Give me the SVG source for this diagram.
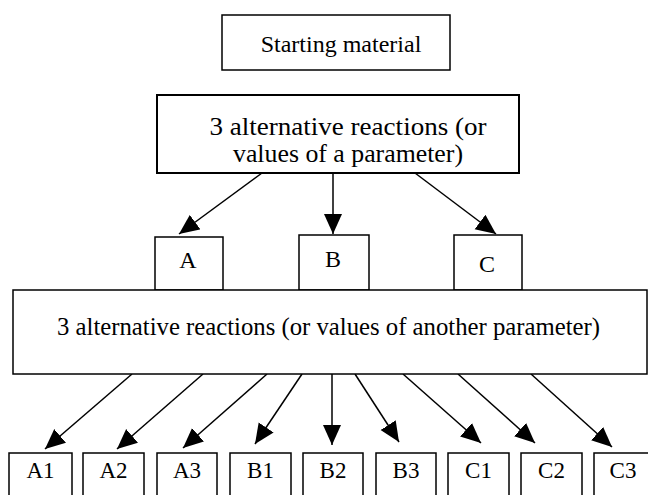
<svg xmlns="http://www.w3.org/2000/svg" width="648" height="495" viewBox="0 0 648 495">
<style>
.box{fill:#fff;stroke:#000;stroke-width:1.5}
.thick{stroke-width:2}
text{font-family:"Liberation Serif","DejaVu Serif",serif;fill:#000;text-anchor:middle}
.c{stroke:#000;stroke-width:1.5;fill:none;marker-end:url(#ah)}
</style>
<defs>
<marker id="ah" markerUnits="userSpaceOnUse" markerWidth="21" markerHeight="19" refX="20" refY="9" orient="auto">
<path d="M0,0 L20,9 L0,18 z" fill="#000"/>
</marker>
</defs>
<rect width="648" height="495" fill="#fff"/>
<g id="connectors">
<line class="c" x1="262" y1="173" x2="179" y2="234"/>
<line class="c" x1="333" y1="173" x2="333" y2="234"/>
<line class="c" x1="415" y1="173" x2="496" y2="234"/>
<line class="c" x1="132" y1="374" x2="45" y2="449"/>
<line class="c" x1="203" y1="374" x2="117" y2="449"/>
<line class="c" x1="267" y1="374" x2="183" y2="448"/>
<line class="c" x1="302" y1="374" x2="255" y2="444"/>
<line class="c" x1="332" y1="374" x2="332" y2="445"/>
<line class="c" x1="355" y1="374" x2="399" y2="442"/>
<line class="c" x1="403" y1="374" x2="481" y2="443"/>
<line class="c" x1="458" y1="374" x2="535" y2="443"/>
<line class="c" x1="531" y1="374" x2="612" y2="447"/>
</g>
<g id="start">
<rect class="box" x="222" y="15" width="228" height="55"/>
<text x="341" y="52" font-size="24" font-family="Liberation Serif, serif">Starting material</text>
</g>
<g id="reactions1">
<rect class="box thick" x="157" y="95" width="362" height="78"/>
<text x="348" y="135" font-size="25" font-family="Liberation Serif, serif" textLength="277" lengthAdjust="spacingAndGlyphs">3 alternative reactions  (or</text>
<text x="348" y="162" font-size="25" font-family="Liberation Serif, serif" textLength="230" lengthAdjust="spacingAndGlyphs">values of a parameter)</text>
</g>
<g id="A">
<rect class="box" x="155" y="237" width="68" height="53"/>
<text x="188" y="268" font-size="24" font-family="Liberation Serif, serif">A</text>
</g>
<g id="B">
<rect class="box" x="299" y="235" width="70" height="55"/>
<text x="333" y="267" font-size="24" font-family="Liberation Serif, serif">B</text>
</g>
<g id="C">
<rect class="box" x="454" y="235" width="68" height="55"/>
<text x="487" y="272" font-size="24" font-family="Liberation Serif, serif">C</text>
</g>
<g id="reactions2">
<rect class="box" x="13" y="290" width="634" height="84"/>
<text x="328.5" y="335" font-size="25" font-family="Liberation Serif, serif" textLength="543" lengthAdjust="spacingAndGlyphs">3 alternative reactions  (or values of another parameter)</text>
</g>
<g id="A1"><rect class="box" x="9" y="453" width="63" height="50"/><text x="40.5" y="478" font-size="23" font-family="Liberation Serif, serif">A1</text></g>
<g id="A2"><rect class="box" x="83" y="453" width="61" height="50"/><text x="113.5" y="478" font-size="23" font-family="Liberation Serif, serif">A2</text></g>
<g id="A3"><rect class="box" x="157" y="453" width="60" height="50"/><text x="187" y="478" font-size="23" font-family="Liberation Serif, serif">A3</text></g>
<g id="B1"><rect class="box" x="230" y="453" width="61" height="50"/><text x="260.5" y="478" font-size="23" font-family="Liberation Serif, serif">B1</text></g>
<g id="B2"><rect class="box" x="303" y="453" width="60" height="50"/><text x="333" y="478" font-size="23" font-family="Liberation Serif, serif">B2</text></g>
<g id="B3"><rect class="box" x="376" y="453" width="60" height="50"/><text x="406" y="478" font-size="23" font-family="Liberation Serif, serif">B3</text></g>
<g id="C1"><rect class="box" x="448" y="453" width="61" height="50"/><text x="478.5" y="478" font-size="23" font-family="Liberation Serif, serif">C1</text></g>
<g id="C2"><rect class="box" x="521" y="453" width="61" height="50"/><text x="551.5" y="478" font-size="23" font-family="Liberation Serif, serif">C2</text></g>
<g id="C3"><rect class="box" x="594" y="453" width="60" height="50"/><text x="623" y="478" font-size="23" font-family="Liberation Serif, serif">C3</text></g>
</svg>
